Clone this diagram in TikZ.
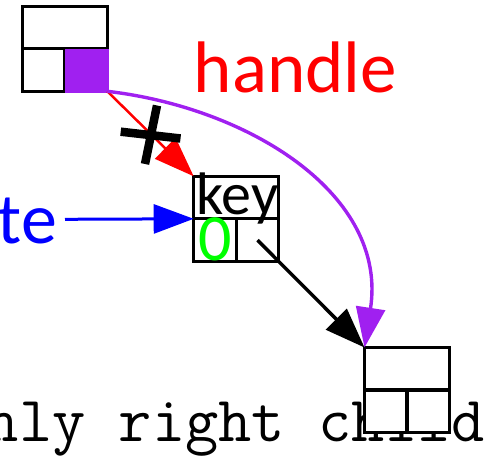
\documentclass[tikz,border=0pt]{standalone}
\usepackage{fontspec}
\newfontfamily\carl{Carlito}
\usetikzlibrary{arrows.meta,calc}
\definecolor{hpurple}{RGB}{160,32,240}
\begin{document}
\begin{tikzpicture}[x=1bp,y=-1bp,
  cellbox/.style={draw, fill=white, line width=3.4bp, minimum width=85bp, minimum height=85bp, inner sep=0pt, outer sep=0pt},
  lbl/.style={inner sep=0pt, outer sep=0pt},
  bigtip/.style={-{Triangle[length=40bp,width=29bp]}},
  divline/.style={line width=3.4bp}]
\useasboundingbox (0,0) rectangle (492,457);
\clip (0,0) rectangle (492,457);
% bottom caption (behind the lower box)
\node[lbl, anchor=base west, font=\ttfamily\fontsize{64.5bp}{70bp}\selectfont] (cap) at (-14,441.5) {nly right child};
% boxes
\node[cellbox] (tb) at (64.8,48.8) {};
\node[cellbox] (kb) at (236.2,218.8) {};
\node[cellbox] (bb) at (407,390) {};
\draw[divline] (tb.west) -- (tb.east) (tb.center) -- (tb.south);
\draw[divline] (kb.west) -- (kb.east) (kb.center) -- (kb.south);
\draw[divline] (bb.west) -- (bb.east) (bb.center) -- (bb.south);
\fill[hpurple] (tb.center) rectangle ([xshift=1.7bp,yshift=-1.7bp]tb.south east);
% texts
\node[lbl, anchor=base, text=red, font=\carl\fontsize{73bp}{80bp}\selectfont] (hd) at (295.5,92.3) {handle};
\node[lbl, anchor=base east, text=blue, font=\carl\fontsize{72bp}{80bp}\selectfont] (te) at (57,243.3) {te};
\node[lbl, anchor=base, font=\carl\fontsize{60bp}{64bp}\selectfont] (key) at (237.5,214.5) {key};
\node[lbl, anchor=base, text=green, font=\carl\fontsize{66bp}{70bp}\selectfont] (zero) at (215,260.5) {0};
% connectors
\coordinate (bs) at (65,219.3);
\draw[blue, line width=3bp, bigtip] (bs) -- (kb.west);
\draw[red, line width=2.5bp, bigtip] (tb.south east) -- (kb.north west);
\coordinate (kc) at ($(kb.center)!0.5!(kb.south east)$);
\draw[line width=3.4bp, bigtip] (kc) -- (bb.north west);
\draw[hpurple, line width=3.4bp, bigtip] (tb.south east) .. controls (250,108) and (388,195) .. (bb.north west);
% cross mark
\coordinate (xa) at (120.7,131.7);
\coordinate (xb) at (180.5,138.5);
\coordinate (xc) at (157,105.5);
\coordinate (xd) at (145,164);
\draw[line width=8.5bp] (xa) -- (xb);
\draw[line width=8.5bp] (xc) -- (xd);
\end{tikzpicture}
\end{document}
